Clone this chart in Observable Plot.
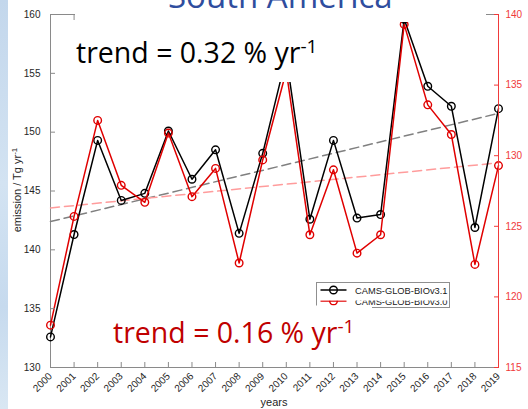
<!DOCTYPE html>
<html>
<head>
<meta charset="utf-8">
<script src="https://cdn.jsdelivr.net/npm/d3@7"></script>
<script src="https://cdn.jsdelivr.net/npm/@observablehq/plot@0.6"></script>
<style>
  body { margin: 0; background: #fff; }
  #wrap { position: relative; width: 528px; height: 409px; overflow: hidden; background: #fff; }
  #wrap > svg { position: absolute; left: 0; top: 0; }
  #sky { position: absolute; left: 0; top: 0; width: 8px; height: 409px;
         background: linear-gradient(to bottom, #c3d7ec 0%, #d3e3f2 45%, #c6daee 75%, #d9e7f3 100%); }
</style>
</head>
<body>
<div id="wrap"><div id="sky"></div></div>
<script>
// Annual biogenic emissions for South America, 2000-2019
const years = [2000, 2001, 2002, 2003, 2004, 2005, 2006, 2007, 2008, 2009,
               2010, 2011, 2012, 2013, 2014, 2015, 2016, 2017, 2018, 2019];
// CAMS-GLOB-BIOv3.1 (left axis, Tg/yr)
const v31 = [132.6, 141.3, 149.3, 144.2, 144.8, 150.1, 146.0, 148.5, 141.4, 148.2,
             156.4, 142.6, 149.3, 142.7, 143.0, 159.6, 153.9, 152.2, 141.9, 152.0];
// CAMS-GLOB-BIOv3.0 (right axis, Tg/yr)
const v30 = [118.0, 125.7, 132.5, 127.9, 126.7, 131.6, 127.1, 129.1, 122.4, 129.7,
             136.0, 124.4, 129.0, 123.1, 124.4, 139.3, 133.6, 131.5, 122.3, 129.3];
// Linear trend values at the first and last year
const trend31 = [142.4, 151.6];
const trend30 = [126.3, 129.5];

const leftDomain = [130, 160];
const rightDomain = [115, 140];
const leftTicks = [130, 135, 140, 145, 150, 155, 160];
const rightTicks = [115, 120, 125, 130, 135, 140];
const seriesNames = ["CAMS-GLOB-BIOv3.1", "CAMS-GLOB-BIOv3.0"];
const trendTexts = ["trend = 0.32 % yr", "trend = 0.16 % yr"];
const trendUnitSup = "-1";
const title = "South America";
const xLabel = "years";
const yLabel = "emission / Tg yr";

const black = "#000000";
const red = "#e00000";
const axisRed = "#f03a3a";
const trendRed = "#c00000";
const gray = "#8a8a8a";
const font = '"Liberation Sans", Arial, sans-serif';

// right-axis values expressed on the left-axis scale
const toLeft = d3.scaleLinear().domain(rightDomain).range(leftDomain);

const rows31 = years.map((year, i) => ({year, value: v31[i]}));
const rows30 = years.map((year, i) => ({year, value: toLeft(v30[i])}));
const ends = [years[0], years[years.length - 1]];
const trendRows31 = ends.map((year, i) => ({year, value: trend31[i]}));
const trendRows30 = ends.map((year, i) => ({year, value: toLeft(trend30[i])}));

const chart = Plot.plot({
  width: 528,
  height: 409,
  marginLeft: 50,
  marginRight: 30,
  marginTop: 14,
  marginBottom: 42,
  style: {fontFamily: font, fontSize: "10px", color: "#262626", background: "transparent"},
  x: {domain: ends},
  y: {domain: leftDomain},
  marks: [
    Plot.frame({stroke: gray}),
    Plot.line(trendRows31, {x: "year", y: "value", stroke: "#808080", strokeWidth: 1.5, strokeDasharray: "9,5"}),
    Plot.line(trendRows30, {x: "year", y: "value", stroke: "#ff9c9c", strokeWidth: 1.5, strokeDasharray: "9,5"}),
    Plot.line(rows31, {x: "year", y: "value", stroke: black, strokeWidth: 1.5}),
    Plot.dot(rows31, {x: "year", y: "value", r: 3.8, stroke: black, strokeWidth: 1.4, fill: "none"}),
    Plot.line(rows30, {x: "year", y: "value", stroke: red, strokeWidth: 1.5}),
    Plot.dot(rows30, {x: "year", y: "value", r: 3.8, stroke: red, strokeWidth: 1.4, fill: "none"}),
    Plot.axisX({ticks: years, tickFormat: d => `${d}`, tickRotate: -45, tickSize: -5, tickPadding: 12,
                stroke: gray, fill: "#262626", label: null}),
    Plot.axisX({anchor: "top", ticks: years, tickSize: -5, stroke: gray, fill: "none", label: null}),
    Plot.axisY({ticks: leftTicks, tickSize: -5, tickPadding: 15, stroke: gray, fill: "#262626", label: null}),
    Plot.axisY({anchor: "right", ticks: rightTicks.map(toLeft), tickFormat: d => d3.format("d")(Math.round(toLeft.invert(d))),
                tickSize: -5, tickPadding: 12, stroke: axisRed, fill: axisRed, label: null}),
    Plot.ruleX([ends[1]], {stroke: axisRed, strokeWidth: 1})
  ]
});
const wrap = document.getElementById("wrap");
wrap.insertBefore(chart, document.getElementById("sky"));

// Slide layer: title, text boxes, axis titles and legend
const svg = d3.select(wrap).append("svg")
  .attr("width", 528).attr("height", 409)
  .style("pointer-events", "none");

// title panel and upper trend panel
svg.append("rect").attr("x", 75).attr("y", 0).attr("width", 411).attr("height", 22).attr("fill", "#fff");
svg.append("rect").attr("x", 75).attr("y", 22).attr("width", 235).attr("height", 60).attr("fill", "#fff");
svg.append("text").attr("x", 168).attr("y", 8)
  .attr("font-family", '"Open Sans", sans-serif').attr("font-size", 33).attr("fill", "#2f4d9e")
  .text(title);

function trendText(x, y, color, label) {
  const t = svg.append("text").attr("x", x).attr("y", y)
    .attr("font-family", '"Open Sans", sans-serif').attr("font-size", 28.5).attr("fill", color);
  t.append("tspan").text(label);
  t.append("tspan").attr("dy", -10).attr("font-size", 19).text(trendUnitSup);
}
trendText(76, 63, black, trendTexts[0]);

// axis titles
const yl = svg.append("text")
  .attr("transform", "translate(21,190) rotate(-90)")
  .attr("text-anchor", "middle")
  .attr("font-family", font).attr("font-size", 11).attr("fill", "#262626");
yl.append("tspan").text(yLabel);
yl.append("tspan").attr("dy", -4).attr("font-size", 8).text(trendUnitSup);
svg.append("text").attr("x", 274).attr("y", 406).attr("text-anchor", "middle")
  .attr("font-family", font).attr("font-size", 11).attr("fill", "#262626").text(xLabel);

// legend
const lg = svg.append("g").attr("transform", "translate(316.5,282.5)");
lg.append("rect").attr("width", 133).attr("height", 25).attr("fill", "#fff").attr("stroke", "#8f8f8f");
[[black, 0], [red, 1]].forEach(([c, i]) => {
  const yy = 7.5 + i * 11;
  lg.append("line").attr("x1", 4).attr("x2", 30).attr("y1", yy).attr("y2", yy).attr("stroke", c).attr("stroke-width", 1.5);
  lg.append("circle").attr("cx", 17).attr("cy", yy).attr("r", 3.8).attr("fill", "none").attr("stroke", c).attr("stroke-width", 1.4);
  lg.append("text").attr("x", 38.5).attr("y", yy + 3.5)
    .attr("font-family", font).attr("font-size", 9.3).attr("fill", "#1a1a1a").text(seriesNames[i]);
});
// the lower text panel sits over part of the legend
svg.append("rect").attr("x", 317).attr("y", 295.5).attr("width", 132).attr("height", 5).attr("fill", "#fff");
svg.append("rect").attr("x", 105).attr("y", 305.5).attr("width", 267).attr("height", 56).attr("fill", "#fff");
trendText(113, 343, trendRed, trendTexts[1]);
</script>
</body>
</html>
